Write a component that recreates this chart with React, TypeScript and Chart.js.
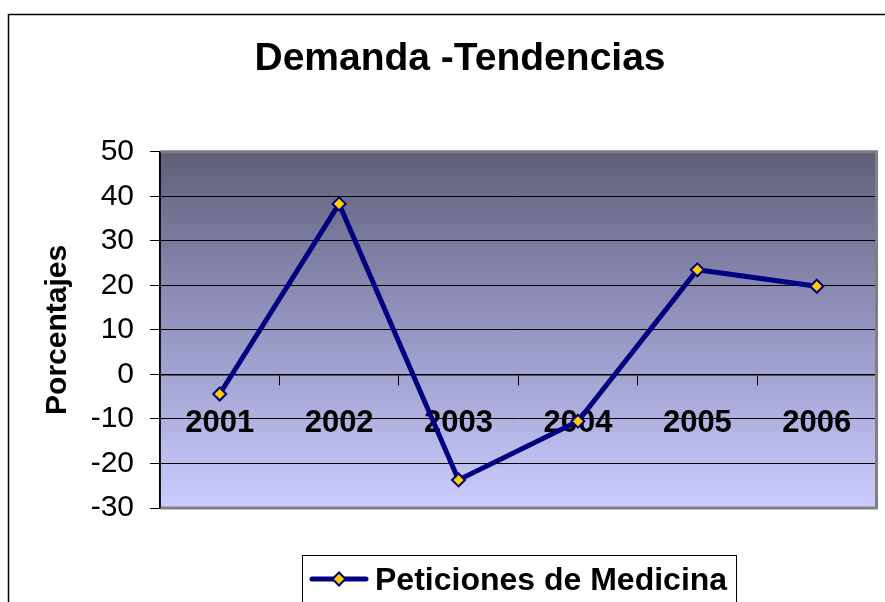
import React, { useEffect, useRef } from "react";
import { Chart, registerables } from "chart.js";

Chart.register(...registerables);

const categories = ["2001", "2002", "2003", "2004", "2005", "2006"];
const peticiones = [-4.4, 38.3, -23.7, -10.5, 23.5, 19.8];
const seriesLabel = "Peticiones de Medicina";
const chartTitle = "Demanda -Tendencias";
const yAxisTitle = "Porcentajes";
const yMin = -30;
const yMax = 50;
const yStep = 10;

const FONT = "Arial, 'Liberation Sans', sans-serif";
const NAVY = "#000080";
const GOLD = "#FFCC00";

const decorPlugin = {
  id: "decor",
  beforeDraw(chart: any) {
    const { ctx, chartArea, width, height } = chart;
    ctx.save();
    ctx.fillStyle = "#ffffff";
    ctx.fillRect(0, 0, width, height);
    // outer frame
    ctx.strokeStyle = "#000000";
    ctx.lineWidth = 1.5;
    ctx.beginPath();
    ctx.moveTo(8.5, height + 2);
    ctx.lineTo(8.5, 14.5);
    ctx.lineTo(width + 2, 14.5);
    ctx.stroke();
    // plot background gradient
    const g = ctx.createLinearGradient(0, chartArea.top, 0, chartArea.bottom);
    g.addColorStop(0, "rgb(95,95,120)");
    g.addColorStop(0.5, "rgb(150,150,195)");
    g.addColorStop(1, "rgb(204,204,255)");
    ctx.fillStyle = g;
    ctx.fillRect(chartArea.left, chartArea.top, chartArea.right - chartArea.left, chartArea.bottom - chartArea.top);
    ctx.restore();
  },
  beforeDatasetsDraw(chart: any) {
    const { ctx, chartArea } = chart;
    ctx.save();
    ctx.strokeStyle = "#808080";
    ctx.lineWidth = 3;
    ctx.beginPath();
    ctx.moveTo(chartArea.left, chartArea.top);
    ctx.lineTo(chartArea.right, chartArea.top);
    ctx.lineTo(chartArea.right, chartArea.bottom);
    ctx.lineTo(chartArea.left, chartArea.bottom);
    ctx.stroke();
    ctx.strokeStyle = "#000000";
    ctx.lineWidth = 1.5;
    ctx.beginPath();
    ctx.moveTo(chartArea.left, chartArea.top);
    ctx.lineTo(chartArea.left, chartArea.bottom);
    ctx.stroke();
    ctx.restore();
  },
  afterDraw(chart: any) {
    const { ctx, height } = chart;
    const ds = chart.data.datasets[0];
    ctx.save();
    // legend box
    ctx.strokeStyle = "#000000";
    ctx.lineWidth = 1;
    ctx.fillStyle = "#ffffff";
    ctx.fillRect(302, 555, 435, height - 555 + 5);
    ctx.strokeRect(302.5, 555.5, 434, height - 555 + 5);
    // line sample
    ctx.strokeStyle = NAVY;
    ctx.lineWidth = 5;
    ctx.lineCap = "round";
    ctx.beginPath();
    ctx.moveTo(312, 579);
    ctx.lineTo(366, 579);
    ctx.stroke();
    // diamond
    const cx = 339, cy = 579, r = 6.5;
    ctx.beginPath();
    ctx.moveTo(cx, cy - r);
    ctx.lineTo(cx + r, cy);
    ctx.lineTo(cx, cy + r);
    ctx.lineTo(cx - r, cy);
    ctx.closePath();
    ctx.fillStyle = GOLD;
    ctx.fill();
    ctx.lineWidth = 2;
    ctx.lineCap = "butt";
    ctx.strokeStyle = NAVY;
    ctx.stroke();
    // text
    ctx.fillStyle = "#000000";
    ctx.font = `bold 32px ${FONT}`;
    ctx.textBaseline = "middle";
    ctx.textAlign = "left";
    ctx.fillText(ds.label, 375, 581);
    ctx.restore();
  },
};

export default function App() {
  const ref = useRef<HTMLCanvasElement | null>(null);
  useEffect(() => {
    if (!ref.current) return;
    const chart = new Chart(ref.current, {
      type: "line",
      data: {
        labels: categories,
        datasets: [
          {
            label: seriesLabel,
            data: peticiones,
            borderColor: NAVY,
            borderWidth: 5,
            backgroundColor: GOLD,
            pointStyle: "rectRot",
            pointRadius: 6.5,
            pointBorderWidth: 2,
            pointBorderColor: NAVY,
            pointBackgroundColor: GOLD,
            tension: 0,
            fill: false,
          },
        ],
      },
      options: {
        responsive: false,
        animation: false,
        devicePixelRatio: 1,
        layout: { padding: { left: 40, right: 5, top: 0, bottom: 94 } },
        plugins: {
          legend: { display: false },
          tooltip: { enabled: false },
          title: {
            display: true,
            text: chartTitle,
            color: "#000000",
            font: { family: FONT, size: 39, weight: "bold" },
            padding: { top: 36, bottom: 69 },
          },
        },
        scales: {
          x: {
            type: "category",
            position: { y: 0 } as any,
            offset: true,
            grid: {
              offset: true,
              drawOnChartArea: false,
              drawTicks: true,
              tickLength: 10,
              color: "#000000",
              lineWidth: 1,
            },
            border: { display: true, color: "#000000", width: 1.5 },
            ticks: {
              color: "#000000",
              font: { family: FONT, size: 31, weight: "bold" },
              padding: 20,
              maxRotation: 0,
              autoSkip: false,
            },
          },
          y: {
            min: yMin,
            max: yMax,
            afterFit: (s: any) => {
              s.width = 120;
            },
            grid: {
              color: "#000000",
              lineWidth: 1,
              drawTicks: true,
              tickLength: 10,
            },
            border: { display: true, color: "#000000", width: 1.5 },
            ticks: {
              stepSize: yStep,
              color: "#000000",
              font: { family: FONT, size: 30 },
              padding: 16,
            },
            title: {
              display: true,
              text: yAxisTitle,
              color: "#000000",
              font: { family: FONT, size: 30, weight: "bold" },
              padding: { top: 0, bottom: 0 },
            },
          },
        },
      },
      plugins: [decorPlugin],
    });
    return () => chart.destroy();
  }, []);
  return (
    <div style={{ position: "fixed", left: 0, top: 0, width: 885, height: 602 }}>
      <canvas ref={ref} width={885} height={602} />
    </div>
  );
}
